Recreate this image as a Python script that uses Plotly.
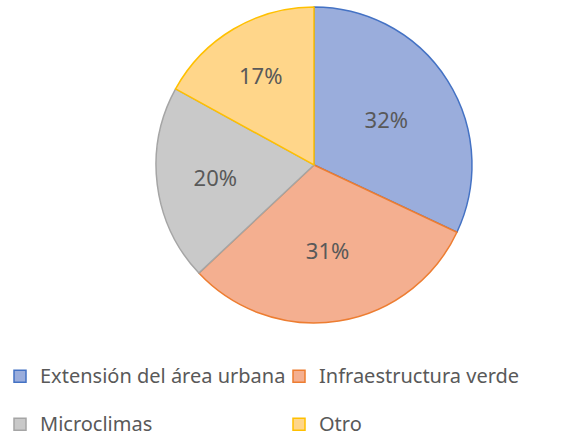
import plotly.graph_objects as go

# datos de la gráfica
categorias = ['Extensión del área urbana', 'Infraestructura verde', 'Microclimas', 'Otro']
valores = [32, 31, 20, 17]
relleno = ['#9AADDC', '#F4AF90', '#C9C9C9', '#FFD68A']
bordes = ['#4472C4', '#ED7D31', '#A5A5A5', '#FFC000']

# texto de leyenda algo mayor que la fuente base, con línea vacía delante para separar filas
etiquetas = [' <br><span style="font-size:20px">' + c + '</span>' for c in categorias]

fig = go.Figure(go.Pie(
    labels=etiquetas,
    values=valores,
    sort=False,
    direction='clockwise',
    rotation=0,
    marker=dict(colors=relleno, line=dict(color=bordes, width=1.5)),
    textinfo='percent',
    textposition='inside',
    insidetextorientation='horizontal',
    textfont=dict(family='Noto Sans', size=22, color='#595959'),
    domain=dict(x=[0.2704, 0.8180], y=[0.261, 0.984]),
))

fig.update_layout(
    width=577, height=437,
    margin=dict(l=0, r=0, t=0, b=0, autoexpand=False),
    paper_bgcolor='white',
    showlegend=True,
    legend=dict(orientation='h', x=0, xanchor='left', y=(437 - 336) / 437, yanchor='top',
                entrywidth=234, valign='bottom',
                font=dict(family='Noto Sans', size=17.3, color='#595959')),
)

fig.write_html("out.html", config={'displayModeBar': False},
               post_script="document.body.style.margin='0';")
